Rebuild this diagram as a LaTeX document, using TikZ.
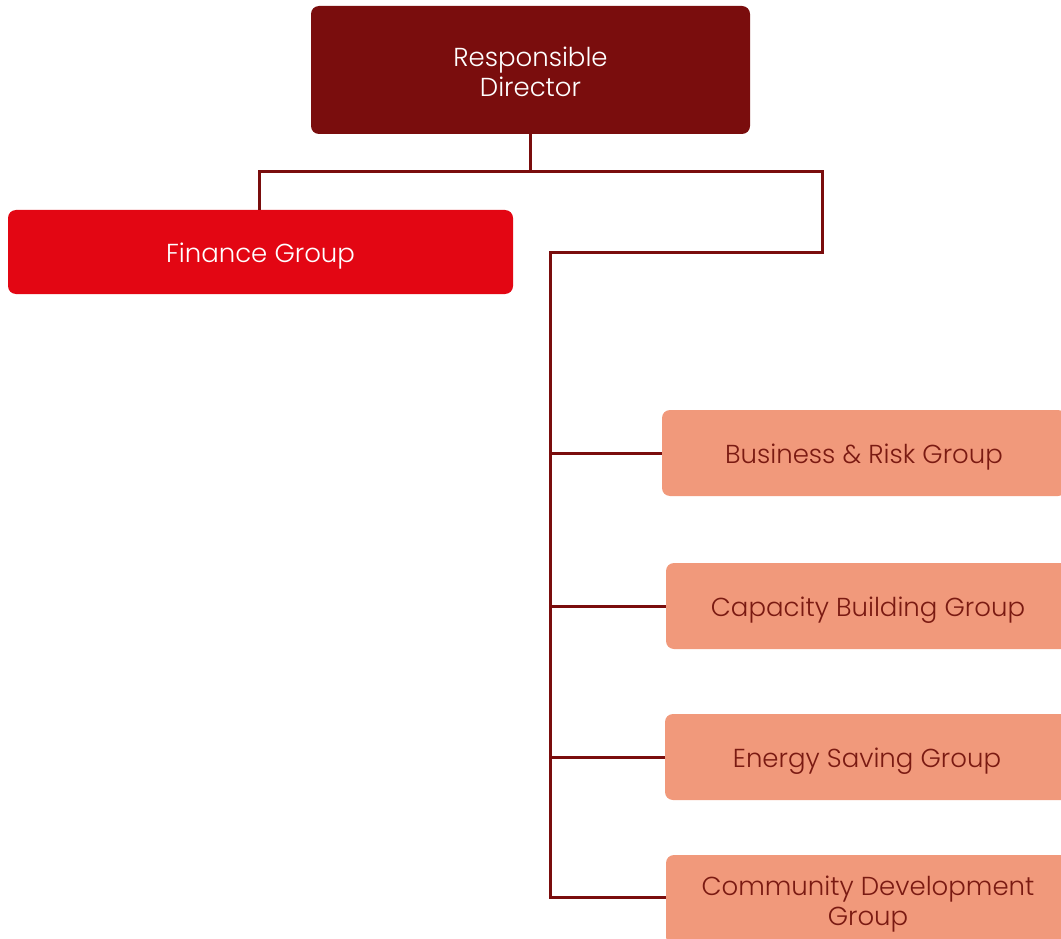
\documentclass[tikz,border=0pt]{standalone}
\usepackage{fontspec}
\setmainfont{Poppins}[UprightFont={* Light}]
\definecolor{darkmaroon}{HTML}{7A0D0D}
\definecolor{finred}{HTML}{E30613}
\definecolor{salmon}{HTML}{F1997B}
\definecolor{salmontext}{HTML}{7A1A12}
% centred, stacked box label, lowered by #1 while keeping its extent
\newcommand\boxlabel[2][4pt]{\raisebox{-#1}[\height][\depth]{\begin{tabular}{@{}c@{}}#2\end{tabular}}}
\begin{document}
\begin{tikzpicture}[x=1pt,y=-1pt,
  box/.style={rounded corners=8pt, inner sep=0pt, font=\fontsize{26}{30}\selectfont},
  topbox/.style={box, fill=darkmaroon, text=white, minimum width=439pt, minimum height=128pt},
  finbox/.style={box, fill=finred, text=white, minimum width=505pt, minimum height=84pt},
  grpbox/.style={box, fill=salmon, text=salmontext, minimum height=86pt},
  conn/.style={draw=darkmaroon, line width=3pt}]
\useasboundingbox (0,0) rectangle (1061,939);
\clip (0,0) rectangle (1061,939);
% boxes
\node[topbox] (rd) at (530.5,70) {\boxlabel[6pt]{Responsible\\Director}};
\node[finbox] (fin) at (260.5,252) {\boxlabel{Finance Group}};
\node[grpbox, minimum width=404pt] (br) at (864,453) {\boxlabel{Business \& Risk Group}};
\node[grpbox, minimum width=404pt] (cb) at (868,606) {\boxlabel{Capacity Building Group}};
\node[grpbox, minimum width=404pt] (es) at (867,757) {\boxlabel{Energy Saving Group}};
\node[grpbox, minimum width=404pt, minimum height=90pt] (cd) at (868,900) {\boxlabel{Community Development\\Group}};
% connectors
\coordinate (bar) at (530.5,172);
\coordinate (turn) at (822,252);
\coordinate (spine) at (550,252);
\draw[conn] (rd.south) -- (bar);
\draw[conn] ([xshift=-1.5pt]fin.north) |- (bar) -| (turn) -- (spine) |- ([yshift=3pt]cd.west);
\draw[conn] (spine |- br.west) -- (br.west);
\draw[conn] (spine |- cb.west) -- (cb.west);
\draw[conn] (spine |- es.west) -- (es.west);
\end{tikzpicture}
\end{document}
